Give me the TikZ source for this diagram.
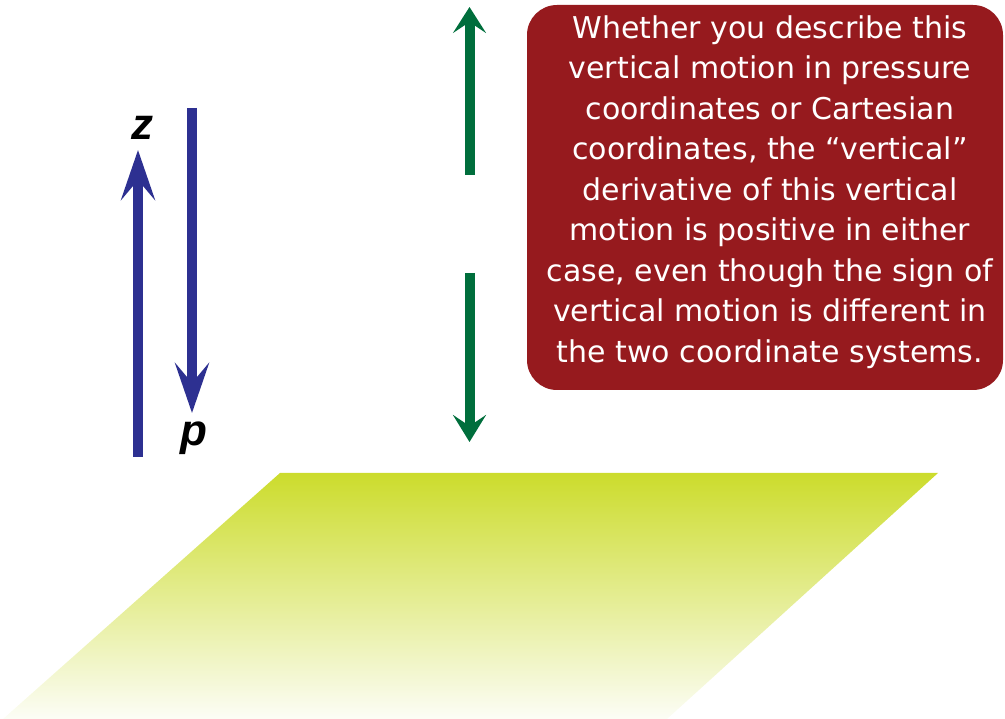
\documentclass[tikz,border=0pt]{standalone}
\usepackage{fontspec}
\setmainfont{DejaVu Sans}
\newfontfamily\labelfont{Liberation Sans}
\usetikzlibrary{arrows.meta}
\definecolor{zpblue}{RGB}{45,48,145}
\definecolor{wgreen}{RGB}{0,110,60}
\definecolor{boxred}{RGB}{150,26,30}
\definecolor{planetop}{RGB}{204,220,44}
\definecolor{planebot}{RGB}{252,253,246}
\tikzset{
  bluearrow/.style={draw=zpblue,line width=10pt,
    -{Stealth[length=50pt,width=34pt,inset=20pt,fill=zpblue]}},
  greenarrow/.style={draw=wgreen,line width=10pt,
    -{Stealth[length=27pt,width=33pt,inset=11pt,fill=wgreen]}},
  axislabel/.style={font=\labelfont\bfseries\itshape\fontsize{44}{44}\selectfont,inner sep=0pt},
  notebox/.style={fill=boxred,rounded corners=30pt},
  notetext/.style={text=white,align=center,inner sep=0pt,
    font=\fontsize{30}{40.5}\selectfont}
}
\begin{document}
\begin{tikzpicture}[x=1pt,y=-1pt]
\useasboundingbox (0,0) rectangle (1005,719);
% plane
\path[top color=planetop,bottom color=planebot]
  (280,473) -- (938,473) -- (667,719) -- (3,719) -- cycle;
% blue arrows
\coordinate (zb) at (138,457);
\coordinate (zt) at (138,150);
\coordinate (pt) at (192,108);
\coordinate (pb) at (192,413);
\draw[bluearrow] (zb) -- (zt);
\draw[bluearrow] (pt) -- (pb);
\node[axislabel] (zlab) at (142,128) {z};
\node[axislabel] (plab) at (194,438) {p};
% green arrows
\coordinate (ub) at (469.5,175);
\coordinate (ut) at (469.5,7);
\coordinate (lt) at (469.5,273);
\coordinate (lb) at (469.5,442);
\draw[greenarrow,-{Stealth[length=26pt,width=33pt,inset=11pt,fill=wgreen]}] (ub) -- (ut);
\draw[greenarrow] (lt) -- (lb);
% note box
\path[notebox] (527,5) rectangle (1003,390);
\node[notetext] (note) at (770,192) {Whether you describe this\\
vertical motion in pressure\\
coordinates or Cartesian\\
coordinates, the “vertical”\\
derivative of this vertical\\
motion is positive in either\\
case, even though the sign of\\
vertical motion is different in\\
the two coordinate systems.};
\end{tikzpicture}
\end{document}
